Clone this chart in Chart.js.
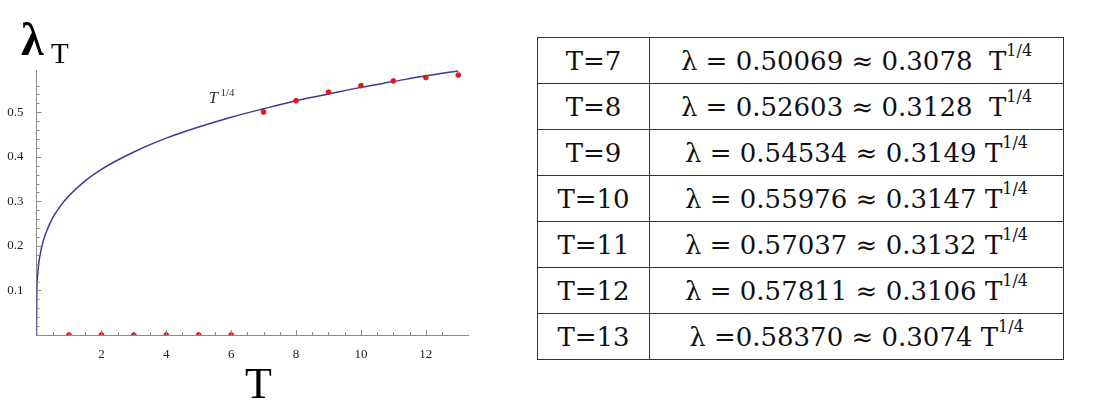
<!DOCTYPE html>
<html>
<head>
<meta charset="utf-8">
<script src="https://cdn.jsdelivr.net/npm/chart.js@4"></script>
<style>
  body { margin: 0; background: #fff; width: 1094px; height: 420px; position: relative; overflow: hidden; }
  #wrap { position: absolute; left: 0; top: 0; width: 520px; height: 420px; }
  table { position: absolute; left: 537px; top: 37px; width: 527px; height: 316px;
          border-collapse: collapse; font-family: "DejaVu Serif", serif; font-size: 26px; color: #111; }
  td { border: 1.5px solid #333; text-align: center; padding: 0; height: 45px; white-space: pre; }
  td.t { width: 111px; }
  sup { font-size: 16px; position: relative; top: -4px; }
</style>
</head>
<body>
<div id="wrap"><canvas id="lam" width="520" height="420"></canvas></div>
<table id="tbl"></table>
<script>
// fitted curve
const curveT = [0, 0.01, 0.03, 0.06, 0.1, 0.2, 0.35, 0.5, 0.75, 1, 1.5, 2, 3, 4, 5, 6, 7, 8, 9, 10, 11, 12, 13];
const curveLambda = [0, 0.099, 0.130, 0.155, 0.176, 0.209, 0.240, 0.263, 0.291, 0.3125, 0.346, 0.372, 0.411, 0.442, 0.467, 0.489, 0.508, 0.526, 0.541, 0.556, 0.569, 0.582, 0.593];

// red points
const pointT = [1, 2, 3, 4, 5, 6, 7, 8, 9, 10, 11, 12, 13];
const pointLambda = [0, 0, 0, 0, 0, 0, 0.50069, 0.52603, 0.54534, 0.55976, 0.57037, 0.57811, 0.58370];

// table
const rowT = [7, 8, 9, 10, 11, 12, 13];
const rowLambda = ['0.50069', '0.52603', '0.54534', '0.55976', '0.57037', '0.57811', '0.58370'];
const rowCoef = ['0.3078', '0.3128', '0.3149', '0.3147', '0.3132', '0.3106', '0.3074'];

const tbl = document.getElementById('tbl');
rowT.forEach((t, i) => {
  const tr = document.createElement('tr');
  const eq = i === 6 ? 'λ =' : 'λ = ';
  const gap = i < 2 ? '  ' : ' ';
  tr.innerHTML = '<td class="t">T=' + t + '</td><td>' + eq + rowLambda[i] + ' ≈ ' + rowCoef[i] + gap + 'T<sup>1/4</sup></td>';
  tbl.appendChild(tr);
});

const serif = '"Liberation Serif", serif';

// inward tick marks + titles + curve label
const decor = {
  id: 'decor',
  afterDraw(chart) {
    const c = chart.ctx, x = chart.scales.x, y = chart.scales.y;
    const x0 = x.getPixelForValue(0), y0 = y.getPixelForValue(0);
    c.save();
    c.strokeStyle = '#8a8a8a';
    c.lineWidth = 1;
    c.beginPath();
    x.ticks.forEach(t => {
      if (t.value === 0 || t.value > 13) return;
      const px = Math.round(x.getPixelForValue(t.value)) + 0.5;
      const len = Number.isInteger(t.value) && t.value % 2 === 0 ? 5 : 3;
      c.moveTo(px, y0); c.lineTo(px, y0 - len);
    });
    y.ticks.forEach(t => {
      if (t.value === 0 || t.value > 0.59) return;
      const py = Math.round(y.getPixelForValue(t.value)) + 0.5;
      const len = Math.round(t.value * 100) % 10 === 0 ? 5 : 3;
      c.moveTo(x0, py); c.lineTo(x0 + len, py);
    });
    c.stroke();
    c.fillStyle = '#000';
    c.font = 'bold 46px ' + serif;
    c.textBaseline = 'alphabetic';
    c.fillText('λ', 21, 55);
    c.font = '29px ' + serif;
    c.fillText('T', 51, 63);
    c.font = '44px ' + serif;
    c.fillText('T', 245, 398);
    c.fillStyle = '#333';
    c.font = 'italic 17px ' + serif;
    const lx = x.getPixelForValue(5.3), ly = y.getPixelForValue(0.522);
    c.fillText('T', lx, ly);
    c.font = '11px ' + serif;
    c.fillText('1/4', lx + 12, ly - 7);
    c.restore();
  }
};

new Chart(document.getElementById('lam'), {
  type: 'scatter',
  data: {
    datasets: [{
      type: 'line',
      data: curveT.map((t, i) => ({ x: t, y: curveLambda[i] })),
      borderColor: '#3b3b96',
      borderWidth: 1.5,
      pointRadius: 0,
      cubicInterpolationMode: 'monotone',
      order: 2
    }, {
      data: pointT.map((t, i) => ({ x: t, y: pointLambda[i] })),
      backgroundColor: '#e8141a',
      borderColor: '#e8141a',
      pointRadius: 2.4,
      order: 1
    }]
  },
  options: {
    responsive: false,
    animation: false,
    layout: { padding: { top: 70, right: 52, left: 0, bottom: 0 } },
    plugins: { legend: { display: false }, tooltip: { enabled: false } },
    scales: {
      x: {
        type: 'linear', min: 0, max: 13.3,
        afterFit: s => { s.height = 85; },
        grid: { display: false },
        border: { color: '#8a8a8a', width: 1 },
        ticks: {
          stepSize: 0.5, autoSkip: false, maxRotation: 0, padding: 4,
          color: '#222', font: { family: serif, size: 13 },
          callback: v => (v > 0 && v <= 12 && Number.isInteger(v) && v % 2 === 0) ? String(v) : ''
        }
      },
      y: {
        min: 0, max: 0.595,
        afterFit: s => { s.width = 36.5; },
        grid: { display: false },
        border: { color: '#8a8a8a', width: 1 },
        ticks: {
          stepSize: 0.02, autoSkip: false, padding: 5,
          color: '#222', font: { family: serif, size: 13 },
          callback: v => {
            const k = Math.round(v * 100);
            return (k > 0 && k <= 50 && k % 10 === 0) ? (k / 100).toFixed(1) : '';
          }
        }
      }
    }
  },
  plugins: [decor]
});
</script>
</body>
</html>
